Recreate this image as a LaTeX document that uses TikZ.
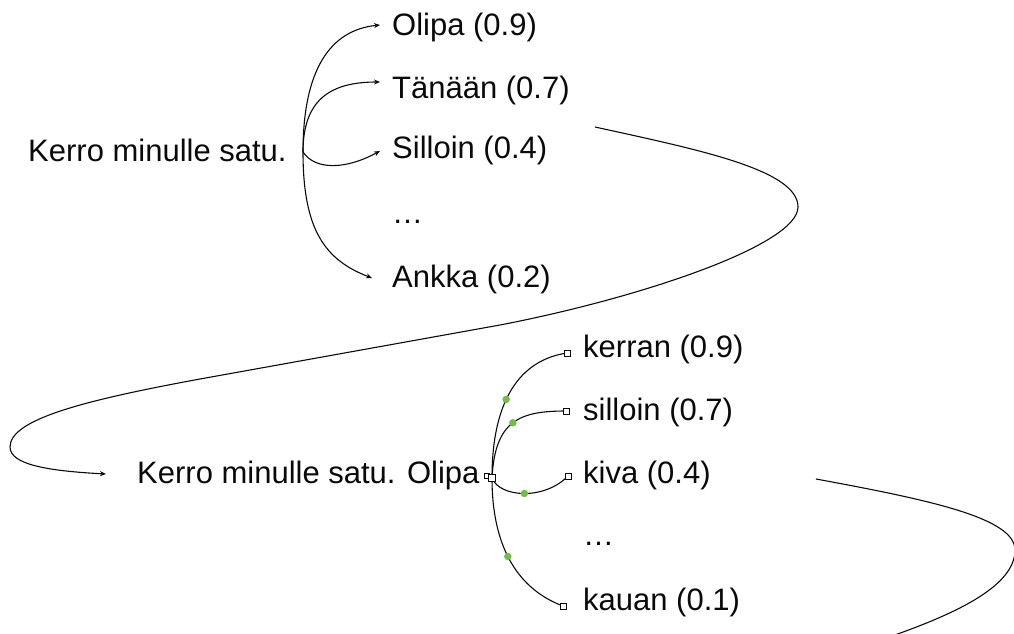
\documentclass[tikz,border=0pt]{standalone}
\usepackage{fontspec}
\setmainfont{Liberation Sans}
\usetikzlibrary{arrows.meta}
\definecolor{dotgreen}{RGB}{112,190,70}
\definecolor{ink}{RGB}{10,10,10}
\begin{document}
\begin{tikzpicture}[x=1pt,y=-1pt,
  lbl/.style={anchor=base west,inner sep=0,text=ink,font=\fontsize{31}{36}\selectfont},
  conn/.style={line width=1.1pt,ink},
  arr/.style={conn,-{Stealth[length=6pt,width=5pt]}},
  hnd/.style={draw=ink,fill=white,line width=0.7pt,minimum size=6pt,inner sep=0,rectangle},
  gdot/.style={circle,fill=dotgreen,inner sep=0,minimum size=7.5pt}]
\useasboundingbox (0,0) rectangle (1014,633);

% top tree
\node[lbl] (k1) at (28,161) {Kerro minulle satu.};
\node[lbl] (o1) at (392,35) {Olipa (0.9)};
\node[lbl] (o2) at (392,98) {Tänään (0.7)};
\node[lbl] (o3) at (392,158) {Silloin (0.4)};
\node[lbl] (o4) at (392,223) {…};
\node[lbl] (o5) at (392,287) {Ankka (0.2)};

\coordinate (b1) at (303,152);
\coordinate (e1) at (380,25);
\coordinate (e2) at (380,82);
\coordinate (e3) at (380,151);
\coordinate (e5) at (372,278);

\draw[arr] (b1) .. controls (303,70) and (330,30) .. (e1);
\draw[arr] (b1) .. controls (303,100) and (330,82) .. (e2);
\draw[arr] (b1) .. controls (315,170) and (345,170) .. (e3);
\draw[arr] (b1) .. controls (303,230) and (325,260) .. (e5);

% big return curve
\coordinate (s1) at (595,127);
\coordinate (e6) at (106,474);
\draw[arr] (s1) .. controls (700,150) and (798,170) .. (798,207)
  .. controls (798,245) and (640,298) .. (500,325) -- (200,379)
  .. controls (80,401) and (10,420) .. (10,447)
  .. controls (10,465) and (50,471) .. (e6);

% bottom tree
\node[lbl] (k2) at (137,483) {Kerro minulle satu. Olipa};
\node[lbl] (p1) at (583,357) {kerran (0.9)};
\node[lbl] (p2) at (583,420) {silloin (0.7)};
\node[lbl] (p3) at (583,483) {kiva (0.4)};
\node[lbl] (p4) at (583,545) {…};
\node[lbl] (p5) at (583,610) {kauan (0.1)};

\coordinate (c1) at (492,478);
\coordinate (f1) at (567,353);
\coordinate (f2) at (566,411);
\coordinate (f3) at (568,476);
\coordinate (f5) at (563,606);

\draw[conn] (c1) .. controls (492,400) and (520,360) .. node[gdot,pos=0.42]{} (f1);
\draw[conn] (c1) .. controls (495,420) and (520,411) .. node[gdot,pos=0.5]{} (f2);
\draw[conn] (c1) .. controls (500,498) and (545,500) .. node[gdot,pos=0.5]{} (f3);
\draw[conn] (c1) .. controls (492,550) and (520,590) .. node[gdot,pos=0.45]{} (f5);

\node[hnd,minimum size=4.5pt] (h0) at (487,476) {};
\node[hnd,minimum size=7pt] (hc) at (c1) {};
\node[hnd] (h1) at (f1) {};
\node[hnd] (h2) at (f2) {};
\node[hnd] (h3) at (f3) {};
\node[hnd] (h5) at (f5) {};

% second return curve (cut by the edge)
\coordinate (s2) at (816,479);
\coordinate (t2) at (892,636);
\draw[conn] (s2) .. controls (930,500) and (1015,518) .. (1015,550)
  .. controls (1015,585) and (960,612) .. (t2);
\end{tikzpicture}
\end{document}
